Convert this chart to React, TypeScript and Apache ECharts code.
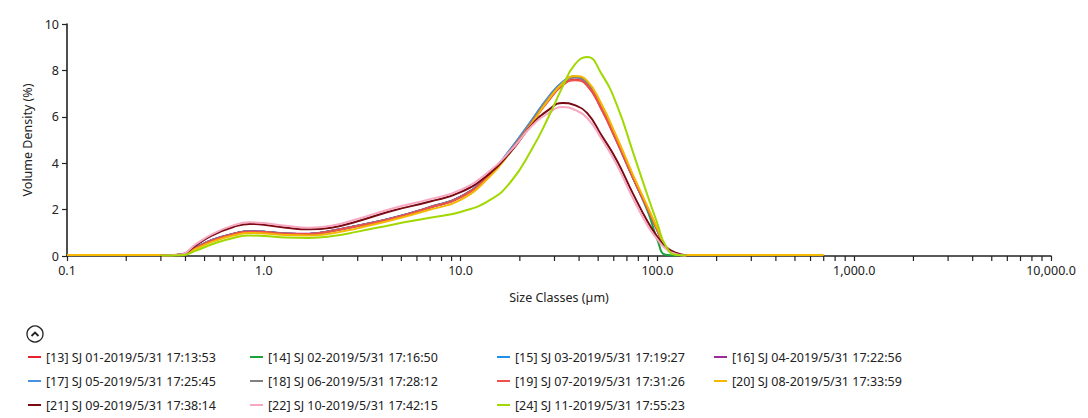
import React, { useEffect, useRef } from "react";
import * as echarts from "echarts";

const sizes = [0.1, 0.2, 0.3, 0.38, 0.45, 0.55, 0.7, 0.85, 1.0, 1.3, 1.7, 2.2, 3.0, 4.5, 7, 10, 14, 18, 23, 28, 33, 38, 44, 52, 62, 75, 90, 100, 110, 125, 140, 200, 400, 700];

const seriesNames = [
  "[13] SJ 01-2019/5/31 17:13:53",
  "[14] SJ 02-2019/5/31 17:16:50",
  "[15] SJ 03-2019/5/31 17:19:27",
  "[16] SJ 04-2019/5/31 17:22:56",
  "[17] SJ 05-2019/5/31 17:25:45",
  "[18] SJ 06-2019/5/31 17:28:12",
  "[19] SJ 07-2019/5/31 17:31:26",
  "[20] SJ 08-2019/5/31 17:33:59",
  "[21] SJ 09-2019/5/31 17:38:14",
  "[22] SJ 10-2019/5/31 17:42:15",
  "[24] SJ 11-2019/5/31 17:55:23",
];

const seriesColors = ["#e8202a", "#1aa33a", "#1e90e8", "#9b2a9b", "#4a90e2", "#808080", "#f0504a", "#f5b800", "#7a0a14", "#f7a8c0", "#a0d800"];

const N = null;
const s13 = [N, N, 0.02, 0.05, 0.34, 0.68, 0.94, 1.05, 1.03, 0.96, 0.95, 1.07, 1.29, 1.62, 2.09, 2.54, 3.48, 4.55, 5.75, 6.72, 7.38, 7.6, 7.35, 6.32, 4.95, 3.38, 1.95, 1.12, 0.4, 0.07, 0.02, N, N, N];
const s14 = [N, N, 0.02, 0.05, 0.35, 0.69, 0.95, 1.06, 1.04, 0.96, 0.95, 1.08, 1.3, 1.63, 2.1, 2.55, 3.5, 4.6, 5.82, 6.82, 7.48, 7.72, 7.45, 6.42, 5.02, 3.4, 1.85, 0.7, 0.05, 0.02, N, N, N, N];
const s15 = [N, N, 0.02, 0.05, 0.35, 0.7, 0.95, 1.06, 1.04, 0.96, 0.95, 1.08, 1.3, 1.63, 2.1, 2.55, 3.52, 4.62, 5.85, 6.85, 7.5, 7.74, 7.45, 6.4, 5.0, 3.4, 1.95, 1.1, 0.38, 0.06, 0.02, N, N, N];
const s16 = [N, N, 0.02, 0.05, 0.35, 0.7, 0.96, 1.07, 1.05, 0.97, 0.96, 1.09, 1.31, 1.64, 2.11, 2.56, 3.5, 4.58, 5.8, 6.8, 7.46, 7.7, 7.44, 6.42, 5.02, 3.42, 1.98, 1.12, 0.4, 0.07, 0.02, N, N, N];
const s17 = [N, N, 0.02, 0.05, 0.35, 0.7, 0.95, 1.06, 1.04, 0.96, 0.95, 1.08, 1.3, 1.63, 2.1, 2.55, 3.53, 4.63, 5.86, 6.86, 7.5, 7.72, 7.44, 6.4, 5.0, 3.4, 1.96, 1.11, 0.39, 0.06, 0.02, N, N, N];
const s18 = [N, N, 0.02, 0.05, 0.34, 0.69, 0.95, 1.06, 1.04, 0.96, 0.95, 1.08, 1.3, 1.63, 2.1, 2.55, 3.5, 4.58, 5.8, 6.8, 7.45, 7.7, 7.46, 6.44, 5.04, 3.43, 1.98, 1.13, 0.4, 0.07, 0.02, N, N, N];
const s19 = [N, N, 0.02, 0.05, 0.34, 0.68, 0.94, 1.05, 1.03, 0.96, 0.95, 1.07, 1.29, 1.62, 2.09, 2.53, 3.47, 4.54, 5.74, 6.7, 7.36, 7.58, 7.36, 6.34, 4.97, 3.39, 1.96, 1.12, 0.4, 0.07, 0.02, N, N, N];
const s20 = [0.04, 0.04, 0.04, 0.05, 0.3, 0.62, 0.88, 0.99, 0.97, 0.9, 0.88, 0.97, 1.2, 1.55, 2.0, 2.42, 3.4, 4.5, 5.72, 6.75, 7.45, 7.76, 7.55, 6.55, 5.15, 3.52, 2.05, 1.18, 0.42, 0.08, 0.04, 0.04, 0.04, 0.04];
const s21 = [N, N, 0.02, 0.06, 0.45, 0.9, 1.25, 1.38, 1.35, 1.22, 1.15, 1.22, 1.5, 1.95, 2.35, 2.75, 3.55, 4.5, 5.65, 6.3, 6.6, 6.5, 6.16, 5.2, 4.14, 2.7, 1.42, 0.83, 0.4, 0.13, 0.03, N, N, N];
const s22 = [N, N, 0.02, 0.07, 0.5, 0.95, 1.32, 1.45, 1.42, 1.3, 1.22, 1.3, 1.6, 2.05, 2.45, 2.85, 3.65, 4.55, 5.6, 6.16, 6.42, 6.3, 5.95, 5.05, 3.95, 2.5, 1.25, 0.72, 0.32, 0.08, 0.02, N, N, N];
const s24 = [N, N, 0.02, 0.03, 0.22, 0.52, 0.78, 0.88, 0.86, 0.8, 0.78, 0.85, 1.05, 1.35, 1.65, 1.9, 2.4, 3.2, 4.6, 6.0, 7.3, 8.25, 8.58, 7.85, 6.55, 4.5, 2.5, 1.4, 0.45, 0.04, 0.02, N, N, N];

const seriesValues = [s13, s14, s15, s16, s17, s18, s19, s20, s21, s22, s24];

const minorTicks = [0.2, 0.3, 0.4, 0.5, 0.6, 0.7, 0.8, 0.9, 2, 3, 4, 5, 6, 7, 8, 9, 20, 30, 40, 50, 60, 70, 80, 90, 200, 300, 400, 500, 600, 700, 800, 900, 2000, 3000, 4000, 5000, 6000, 7000, 8000, 9000];

const legendColumns = [
  [0, 4, 8],
  [1, 5, 9],
  [2, 6, 10],
  [3, 7],
];
const legendLefts = [28, 250, 497, 714];

const FONT = "'Noto Sans', 'Open Sans', sans-serif";

function fmtX(v: number): string {
  if (v < 1) return v.toFixed(1);
  return Math.round(v).toLocaleString("en-US") + ".0";
}

export default function App() {
  const ref = useRef<HTMLDivElement>(null);
  useEffect(() => {
    if (!ref.current) return;
    const chart = echarts.init(ref.current, null, { renderer: "svg" });
    const lineSeries = seriesNames.map((name, i) => ({
      name,
      type: "line",
      data: sizes.map((s, j) => [s, seriesValues[i][j]]),
      smooth: 0.5,
      showSymbol: false,
      connectNulls: false,
      lineStyle: { color: seriesColors[i], width: 2 },
      itemStyle: { color: seriesColors[i] },
    }));
    const option: any = {
      animation: false,
      textStyle: { fontFamily: FONT },
      grid: { left: 67, right: 37, top: 24, bottom: 162 },
      xAxis: {
        type: "log",
        logBase: 10,
        min: 0.1,
        max: 10000,
        name: "Size Classes (µm)",
        nameLocation: "middle",
        nameGap: 35,
        nameTextStyle: { fontSize: 12.5, color: "#222", fontFamily: FONT },
        axisLine: { show: true, lineStyle: { color: "#222", width: 1.6 } },
        axisTick: { show: true, length: 5, lineStyle: { color: "#222", width: 1.2 } },
        axisLabel: { fontSize: 12.5, color: "#222", margin: 8, formatter: fmtX, fontFamily: FONT },
        splitLine: { show: false },
        minorTick: { show: false },
      },
      yAxis: {
        type: "value",
        min: 0,
        max: 10,
        interval: 2,
        name: "Volume Density (%)",
        nameLocation: "middle",
        nameGap: 31,
        nameTextStyle: { fontSize: 12.5, color: "#222", fontFamily: FONT },
        axisLine: { show: true, onZero: false, lineStyle: { color: "#222", width: 1.6 } },
        axisTick: { show: true, length: 5, lineStyle: { color: "#222", width: 1.2 } },
        axisLabel: { fontSize: 12.5, color: "#222", margin: 8, fontFamily: FONT },
        splitLine: { show: false },
      },
      legend: legendColumns.map((col, k) => ({
        data: col.map((i) => seriesNames[i]),
        orient: "vertical",
        left: legendLefts[k],
        top: 350,
        padding: 0,
        itemWidth: 13,
        itemHeight: 2,
        itemGap: 10,
        icon: "rect",
        selectedMode: false,
        textStyle: { fontSize: 12.5, color: "#222", lineHeight: 14, fontFamily: FONT },
      })),
      graphic: [
        {
          type: "circle",
          shape: { cx: 35, cy: 334, r: 8 },
          style: { fill: "#fff", stroke: "#222", lineWidth: 1.3 },
        },
        {
          type: "polyline",
          shape: { points: [[31.5, 336], [35, 332.5], [38.5, 336]] },
          style: { fill: "none", stroke: "#222", lineWidth: 1.8 },
        },
      ],
      series: [
        ...lineSeries,
        {
          type: "custom",
          name: "minorTicks",
          data: minorTicks.map((v) => [v, 0]),
          silent: true,
          clip: false,
          z: 5,
          renderItem: (params: any, api: any) => {
            const p = api.coord([api.value(0), 0]);
            return {
              type: "line",
              shape: { x1: p[0], y1: p[1], x2: p[0], y2: p[1] + 5 },
              style: { stroke: "#222", lineWidth: 1.2 },
            };
          },
        },
      ],
    };
    chart.setOption(option);
    return () => chart.dispose();
  }, []);
  return <div ref={ref} style={{ position: "fixed", left: 0, top: 0, width: 1088, height: 418, background: "#fff" }} />;
}
